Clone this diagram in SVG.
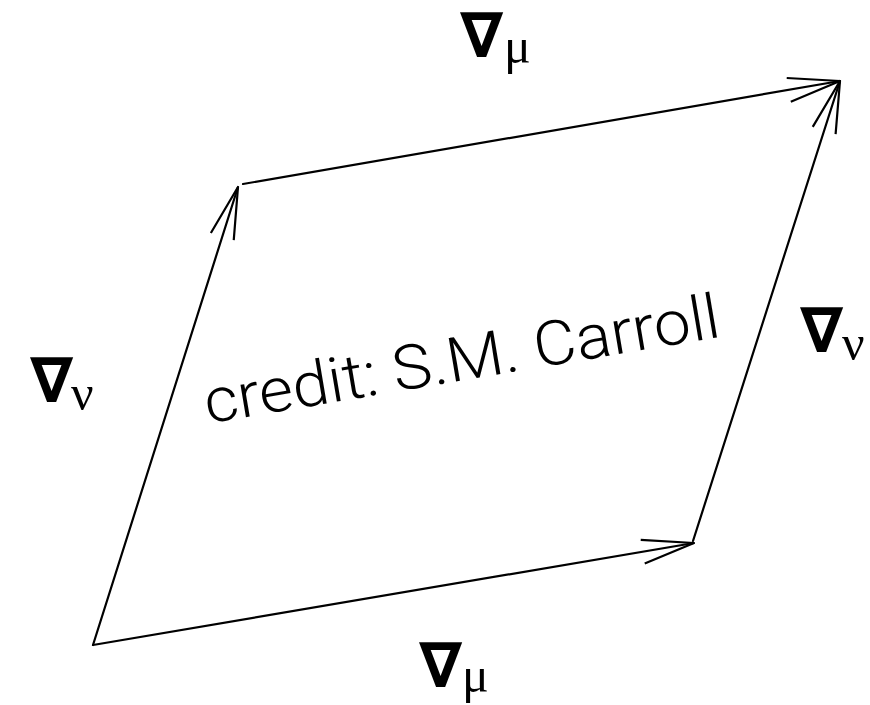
<svg xmlns="http://www.w3.org/2000/svg" width="870" height="705" viewBox="0 0 870 705">
<style>
.edge{stroke:#000;stroke-width:2.2;fill:none;stroke-linecap:round}
.nab{font-family:"Noto Sans","DejaVu Sans",sans-serif;font-weight:bold;font-size:62px;fill:#000}
.sub{font-family:"Liberation Serif",serif;font-size:50px;fill:#000}
.credit{font-family:Roboto,"Liberation Sans",sans-serif;font-weight:300;font-size:62px;fill:#000}
</style>
<defs>
<marker id="ah" markerUnits="userSpaceOnUse" markerWidth="60" markerHeight="30" viewBox="-55 -15 60 30" refX="0" refY="0" orient="auto">
<path d="M-52,-12 L0,0 L-52,12" stroke="#000" stroke-width="2.2" fill="none"/>
</marker>
</defs>
<rect width="870" height="705" fill="#fff"/>
<g id="connectors">
<line class="edge" x1="93" y1="645" x2="694" y2="543" marker-end="url(#ah)"/>
<line class="edge" x1="93" y1="645" x2="238" y2="187" marker-end="url(#ah)"/>
<line class="edge" x1="243" y1="184" x2="840" y2="81" marker-end="url(#ah)"/>
<line class="edge" x1="693" y1="541" x2="840" y2="81" marker-end="url(#ah)"/>
</g>
<g id="label-top"><text class="nab" x="460" y="57">∇</text><text class="sub" x="504" y="63">μ</text></g>
<g id="label-left"><text class="nab" x="30" y="402">∇</text><text class="sub" x="71" y="410">ν</text></g>
<g id="label-right"><text class="nab" x="800" y="352">∇</text><text class="sub" x="842" y="360">ν</text></g>
<g id="label-bottom"><text class="nab" x="419" y="687">∇</text><text class="sub" x="462" y="692">μ</text></g>
<g id="credit"><text class="credit" transform="translate(465,380) rotate(-9.6)" text-anchor="middle" textLength="522" lengthAdjust="spacingAndGlyphs">credit: S.M. Carroll</text></g>
</svg>
